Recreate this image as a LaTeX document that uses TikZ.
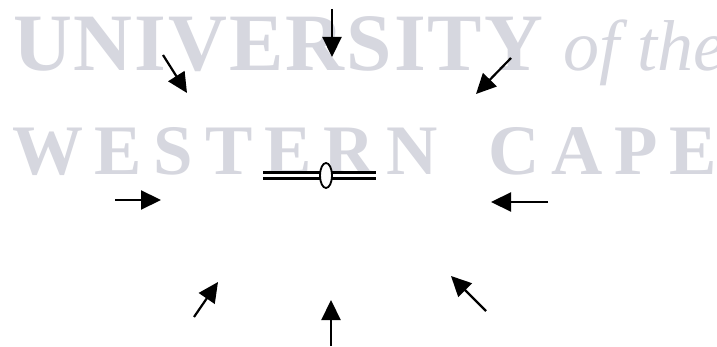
\documentclass[tikz,border=0pt]{standalone}
\usepackage{fontspec}
\usetikzlibrary{arrows.meta,shapes.geometric,positioning}
\newfontfamily\wmcapsfont[LetterSpace=2.5]{Liberation Serif}
\newfontfamily\wmwidefont[LetterSpace=16.5]{Liberation Serif}
\newfontfamily\wmplainfont{Liberation Serif}
\definecolor{wmgray}{RGB}{214,215,223}

\begin{document}
\begin{tikzpicture}[x=1pt,y=-1pt]
\tikzset{
  watermark/.style={inner sep=0pt,anchor=base west,text=wmgray},
  forcearrow/.style={draw=black,line width=2.2pt,-{Triangle[length=20pt,width=19pt]}},
  rodline/.style={draw=black,line width=2.6pt,double=white,double distance=3.6pt},
  bead/.style={ellipse,draw=black,line width=1.8pt,fill=white,minimum width=12pt,minimum height=25pt,inner sep=0pt}
}
\useasboundingbox[fill=white] (0,0) rectangle (717,347);
\node[watermark,font=\wmcapsfont\bfseries\fontsize{81.5}{90}\selectfont] (w_univ) at (13,71) {UNIVERSITY};
\node[watermark,font=\wmplainfont\itshape\fontsize{72}{80}\selectfont] (w_ofthe) at (563,71) {of the};
\node[watermark,font=\wmwidefont\bfseries\fontsize{71}{80}\selectfont] (w_western) at (12,175) {WESTERN};
\node[watermark,font=\wmwidefont\bfseries\fontsize{71}{80}\selectfont] (w_cape) at (488,175) {CAPE};
\coordinate (rod_l) at (263,175.5);
\coordinate (rod_r) at (376,175.5);
\draw[rodline] (rod_l) -- (rod_r);
\node[bead] (b) at (326,175.5) {};
\coordinate (t_n) at (332,9);
\coordinate (h_n) at (332,57);
\coordinate (t_nw) at (163,55);
\coordinate (h_nw) at (187,93);
\coordinate (t_ne) at (511,58);
\coordinate (h_ne) at (476,94);
\coordinate (t_w) at (115,200);
\coordinate (h_w) at (161,200);
\coordinate (t_e) at (548,202);
\coordinate (h_e) at (491,202);
\coordinate (t_sw) at (194,317);
\coordinate (h_sw) at (218,282);
\coordinate (t_s) at (331,346);
\coordinate (h_s) at (331,300);
\coordinate (t_se) at (486,311);
\coordinate (h_se) at (451,276);
\draw[forcearrow] (t_n) -- (h_n);
\draw[forcearrow] (t_nw) -- (h_nw);
\draw[forcearrow] (t_ne) -- (h_ne);
\draw[forcearrow] (t_w) -- (h_w);
\draw[forcearrow] (t_e) -- (h_e);
\draw[forcearrow] (t_sw) -- (h_sw);
\draw[forcearrow] (t_s) -- (h_s);
\draw[forcearrow] (t_se) -- (h_se);
\end{tikzpicture}
\end{document}
